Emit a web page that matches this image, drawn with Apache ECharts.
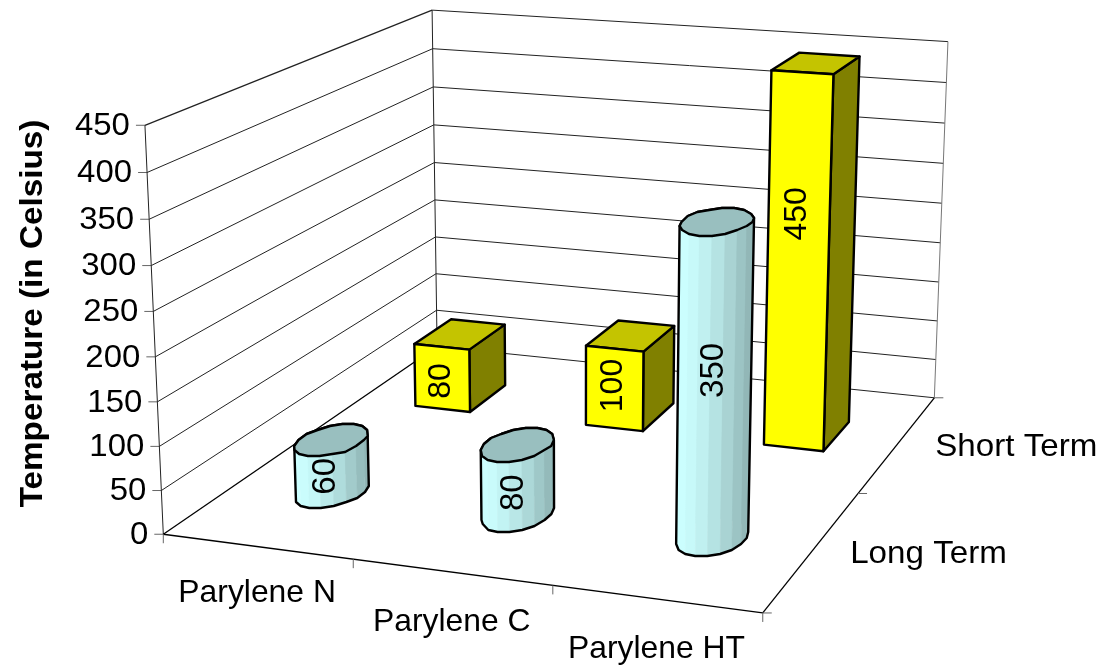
<!DOCTYPE html>
<html>
<head>
<meta charset="utf-8">
<style>html,body{margin:0;padding:0;background:#fff}#chart{width:1101px;height:666px}</style>
<script src="https://cdn.jsdelivr.net/npm/echarts@6/dist/echarts.min.js"></script>
</head>
<body>
<div id="chart"></div>
<script>
// Chart content
const categories = ['Parylene N', 'Parylene C', 'Parylene HT'];
const depthSeries = ['Long Term', 'Short Term'];
const longTerm = [60, 80, 350];
const shortTerm = [80, 100, 450];
const valueTicks = [0, 50, 100, 150, 200, 250, 300, 350, 400, 450];
const axisTitle = 'Temperature (in Celsius)';

// Box corners of the plot volume on the page: [category, depth, value] -> [px, py]
const ZMAX = 450;
const frame = [
  [[0, 0, 0], [163.5, 534]],
  [[3, 0, 0], [762.5, 613.5]],
  [[3, 2, 0], [934.5, 397]],
  [[0, 2, 0], [437, 347]],
  [[0, 0, 450], [145, 125]],
  [[0, 2, 450], [432, 10]],
  [[3, 2, 450], [948, 42]]
];

// Least-squares fit of the 3D -> 2D perspective matrix
function fitProjection(pts) {
  const n = 11, A = [], b = [];
  const Nm = Array.from({length: n}, () => new Array(n + 1).fill(0));
  pts.forEach(([[x, y, z], [u0, v0]]) => {
    const zn = z / ZMAX * 3, u = u0 / 1000, v = v0 / 1000;
    A.push([x, y, zn, 1, 0, 0, 0, 0, -u * x, -u * y, -u * zn]); b.push(u);
    A.push([0, 0, 0, 0, x, y, zn, 1, -v * x, -v * y, -v * zn]); b.push(v);
  });
  A.forEach((row, k) => {
    for (let i = 0; i < n; i++) {
      for (let j = 0; j < n; j++) Nm[i][j] += row[i] * row[j];
      Nm[i][n] += row[i] * b[k];
    }
  });
  for (let i = 0; i < n; i++) {
    let p = i;
    for (let r = i + 1; r < n; r++) if (Math.abs(Nm[r][i]) > Math.abs(Nm[p][i])) p = r;
    [Nm[i], Nm[p]] = [Nm[p], Nm[i]];
    for (let r = 0; r < n; r++) {
      if (r === i) continue;
      const f = Nm[r][i] / Nm[i][i];
      for (let c = i; c <= n; c++) Nm[r][c] -= f * Nm[i][c];
    }
  }
  return Nm.map((row, i) => row[n] / row[i]);
}
const M = fitProjection(frame);
function project(x, y, z) {
  const zn = z / ZMAX * 3;
  const w = M[8] * x + M[9] * y + M[10] * zn + 1;
  return [1000 * (M[0] * x + M[1] * y + M[2] * zn + M[3]) / w,
          1000 * (M[4] * x + M[5] * y + M[6] * zn + M[7]) / w];
}

// Mark geometry and colours
const BOX_W = 0.325, BOX_D = 0.31, CYL_R = 0.16, CYL_SIDES = 18, CYL_SNAP = 2;
const FONT = 'Liberation Sans, Arial, sans-serif';
const COL = {front: '#ffff00', top: '#c4c400', side: '#808000', cap: '#99bfbf',
             cylLight: [204, 255, 255], cylDark: [140, 176, 176]};
// Pixel nudges of the rotated value labels, by [depth row][category]
const labelNudge = [[-6, -4, -28], [3, -3, -50]];
// Drop of the category labels below their axis position
const categoryDrop = [47, 50, 50];

function rotated(text, p, size, stretch) {
  return {type: 'text', x: p[0], y: p[1], rotation: Math.PI / 2, scaleX: stretch || 1, silent: true,
    style: {text, fill: '#000', fontSize: size, fontFamily: FONT, align: 'center', verticalAlign: 'middle'}};
}
function label(text, p, align, size, stretch) {
  return {type: 'text', x: p[0], y: p[1], scaleX: stretch || 1, silent: true,
    style: {text, fill: '#000', fontSize: size, fontFamily: FONT, align, verticalAlign: 'middle'}};
}
function line(a, b, color, width) {
  return {type: 'line', shape: {x1: a[0], y1: a[1], x2: b[0], y2: b[1]},
    style: {stroke: color, lineWidth: width, fill: null}, silent: true};
}
function poly(points, fill, stroke, width) {
  return {type: 'polygon', shape: {points}, silent: true,
    style: {fill: fill, stroke: stroke, lineWidth: width, lineJoin: 'round'}};
}
function hull(points) {
  const p = points.slice().sort((a, b) => a[0] - b[0] || a[1] - b[1]);
  const cross = (o, a, b) => (a[0] - o[0]) * (b[1] - o[1]) - (a[1] - o[1]) * (b[0] - o[0]);
  const half = list => {
    const out = [];
    list.forEach(q => {
      while (out.length > 1 && cross(out[out.length - 2], out[out.length - 1], q) <= 0) out.pop();
      out.push(q);
    });
    out.pop();
    return out;
  };
  return half(p).concat(half(p.slice().reverse()));
}

// Walls, floor, gridlines, ticks and axis text
function renderFrame(params, api) {
  const P = (x, y, z) => api.coord(project(x, y, z));
  const kids = [];
  valueTicks.forEach(v => {
    if (v > 0) {
      kids.push(line(P(0, 0, v), P(0, 2, v), '#222', v === ZMAX ? 1.3 : 1));
    }
    kids.push(line(P(0, 2, v), P(3, 2, v), '#222', 1));
    const t = P(0, 0, v);
    kids.push(line([t[0] - 9, t[1]], t, '#666', 1));
    kids.push(label(String(v), [t[0] - 15, t[1] + 1], 'right', 32, 1.03));
  });
  kids.push(line(P(0, 0, 0), P(0, 0, ZMAX), '#222', 1));
  kids.push(line(P(0, 2, 0), P(0, 2, ZMAX), '#222', 1));
  kids.push(line(P(3, 2, 0), P(3, 2, ZMAX), '#777', 1));
  kids.push(line(P(0, 0, 0), P(3, 0, 0), '#000', 1.3));
  kids.push(line(P(0, 0, 0), P(0, 2, 0), '#000', 1.3));
  kids.push(line(P(3, 0, 0), P(3, 2, 0), '#000', 1.3));
  for (let i = 0; i <= categories.length; i++) {
    const t = P(i, 0, 0);
    kids.push(line(t, [t[0], t[1] + 9], '#666', 1));
  }
  for (let d = 0; d <= depthSeries.length; d++) {
    const t = P(3, d, 0);
    kids.push(line(t, [t[0] + 9, t[1]], '#666', 1));
  }
  categories.forEach((c, i) => {
    const t = P(i + 0.5, 0, 0);
    kids.push(label(c, [t[0], t[1] + categoryDrop[i]], 'center', 32, 0.995));
  });
  depthSeries.forEach((s, d) => {
    const t = P(3, d + 0.5, 0);
    kids.push(label(s, [t[0] + 37, t[1] + 4], 'left', 32, 1.036));
  });
  const title = rotated(axisTitle, [33, 313.5], 32, 1.04);
  title.style.fontWeight = 'bold';
  kids.push(title);
  return {type: 'group', children: kids};
}

function renderBox(params, api) {
  const cx = api.value(0) + 0.5, cy = api.value(1) + 0.5, h = api.value(2);
  const P = (x, y, z) => api.coord(project(x, y, z));
  const x0 = cx - BOX_W / 2, x1 = cx + BOX_W / 2, y0 = cy - BOX_D / 2, y1 = cy + BOX_D / 2;
  const nudge = labelNudge[api.value(1)][api.value(0)];
  const c = P(cx, y0, h / 2);
  return {type: 'group', children: [
    poly([P(x1, y0, 0), P(x1, y1, 0), P(x1, y1, h), P(x1, y0, h)], COL.side, '#000', 2.4),
    poly([P(x0, y0, h), P(x1, y0, h), P(x1, y1, h), P(x0, y1, h)], COL.top, '#000', 2.4),
    poly([P(x0, y0, 0), P(x1, y0, 0), P(x1, y0, h), P(x0, y0, h)], COL.front, '#000', 2.4),
    rotated(String(h), [c[0] - 1, c[1] + nudge], 32)
  ]};
}

function renderCylinder(params, api) {
  const cx = api.value(0) + 0.5, cy = api.value(1) + 0.5, h = api.value(2);
  const P = (x, y, z) => api.coord(project(x, y, z));
  // The rim heights sit on a coarse pixel lattice, which gives the faceted edge
  const snap = p => [p[0], Math.round(p[1] / CYL_SNAP) * CYL_SNAP];
  const ring = z => {
    const out = [];
    for (let k = 0; k < CYL_SIDES; k++) {
      const a = (k + 0.5) / CYL_SIDES * 2 * Math.PI;
      out.push(snap(P(cx + CYL_R * Math.cos(a), cy + CYL_R * Math.sin(a), z)));
    }
    return out;
  };
  const lo = ring(0), hi = ring(h);
  const xs = lo.map(p => p[0]), minX = Math.min(...xs), maxX = Math.max(...xs);
  const kids = [];
  for (let k = 0; k < CYL_SIDES; k++) {
    const j = (k + 1) % CYL_SIDES;
    const mid = (lo[k][0] + lo[j][0]) / 2;
    const t = Math.pow((mid - minX) / (maxX - minX), 1.6);
    const rgb = COL.cylLight.map((c, i) => Math.round(c + (COL.cylDark[i] - c) * t));
    const col = 'rgb(' + rgb.join(',') + ')';
    kids.push(poly([lo[k], lo[j], hi[j], hi[k]], col, col, 0.5));
  }
  kids.push(poly(hull(lo.concat(hi)), 'none', '#000', 2.4));
  kids.push(poly(hi, COL.cap, '#000', 2.4));
  const c = P(cx, cy - CYL_R, h / 2);
  const nudge = labelNudge[api.value(1)][api.value(0)];
  kids.push(rotated(String(h), [c[0] + 17, c[1] + nudge], 33));
  return {type: 'group', children: kids};
}

const chart = echarts.init(document.getElementById('chart'), null, {renderer: 'canvas'});
chart.setOption({
  animation: false,
  backgroundColor: '#fff',
  grid: {left: 0, right: 0, top: 0, bottom: 0},
  xAxis: {type: 'value', min: 0, max: 1101, show: false},
  yAxis: {type: 'value', min: 0, max: 666, inverse: true, show: false},
  tooltip: {show: false},
  series: [
    {type: 'custom', clip: false, silent: true, renderItem: renderFrame, data: [[0]], z: 1},
    {type: 'custom', clip: false, silent: true, renderItem: renderBox, z: 2,
      data: shortTerm.map((v, i) => [i, 1, v])},
    {type: 'custom', clip: false, silent: true, renderItem: renderCylinder, z: 3,
      data: longTerm.map((v, i) => [i, 0, v])}
  ]
});
</script>
</body>
</html>
